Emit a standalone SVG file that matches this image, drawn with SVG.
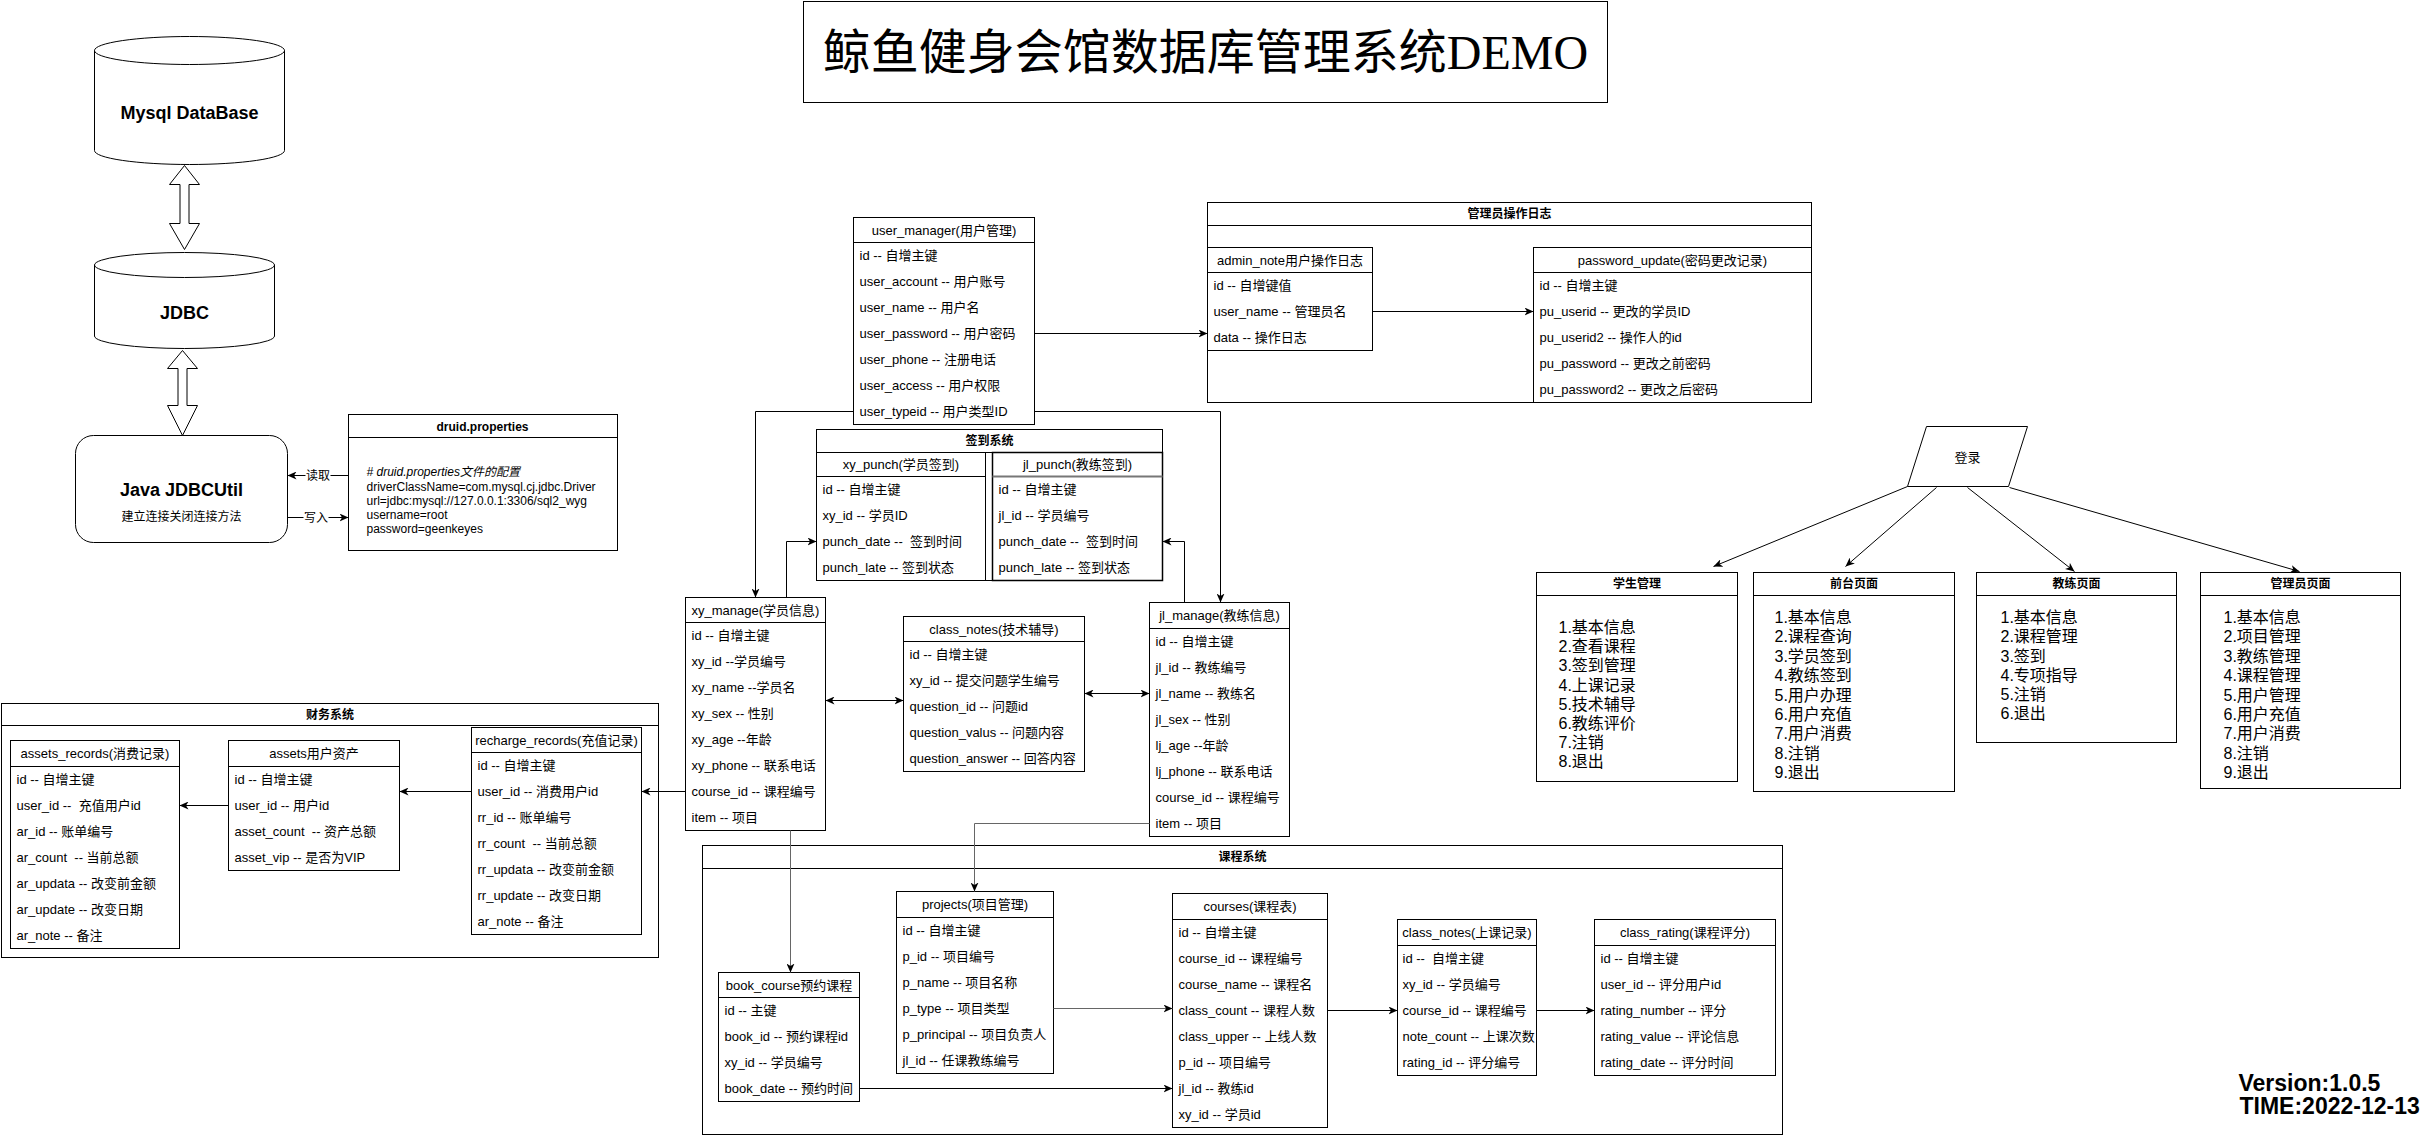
<svg xmlns="http://www.w3.org/2000/svg" width="2434" height="1135" viewBox="0 0 2434 1135">
<defs>
<style>
.t{font-family:"Liberation Sans","Noto Sans CJK SC",sans-serif;font-size:13px;fill:#000;dominant-baseline:central}
.h{text-anchor:middle}
.b{font-weight:bold;font-size:12px}
.s12{font-size:12px}
.l16{font-size:16px}
.box{fill:#fff;stroke:#000;stroke-width:1}
.ln{fill:none;stroke:#000;stroke-width:1}
.c{fill:none;stroke:#000;stroke-width:1}
.g{stroke:#666}
.a{marker-end:url(#arr)}
.aa{marker-start:url(#arr);marker-end:url(#arr)}
</style>
<marker id="arr" viewBox="0 0 10 8" refX="9" refY="4" markerWidth="10" markerHeight="8" markerUnits="userSpaceOnUse" orient="auto-start-reverse">
<path d="M0,0 L9,4 L0,8 L2.5,4 Z" fill="#000"/>
</marker>
</defs>
<rect x="0" y="0" width="2434" height="1135" fill="#fff"/>
<g transform="translate(0.5,0.5)">

<!-- Title -->
<g id="title">
<rect class="box" x="803" y="1" width="804" height="101"/>
<text x="1205" y="52" text-anchor="middle" dominant-baseline="central" style="font-family:'Liberation Serif','Noto Sans CJK SC',serif;font-size:48px">鲸鱼健身会馆数据库管理系统DEMO</text>
</g>

<!-- Mysql -->
<g id="mysql">
<path class="box" d="M94,50 A95,14 0 0 1 284,50 L284,150 A95,14 0 0 1 94,150 Z"/>
<path class="ln" d="M94,50 A95,14 0 0 0 284,50"/>
<text class="t h" x="189" y="112" style="font-weight:bold;font-size:18px">Mysql DataBase</text>
</g>

<g id="jdbc">
<path class="box" d="M94,264.5 A90,12.5 0 0 1 274,264.5 L274,335.5 A90,12.5 0 0 1 94,335.5 Z"/>
<path class="ln" d="M94,264.5 A90,12.5 0 0 0 274,264.5"/>
<text class="t h" x="184" y="312" style="font-weight:bold;font-size:18px">JDBC</text>
</g>

<g id="jdbcutil">
<rect class="box" x="75" y="435" width="212" height="107" rx="18" ry="18"/>
<text class="t h" x="181" y="489" style="font-weight:bold;font-size:18px">Java JDBCUtil</text>
<text class="t h s12" x="181" y="516">建立连接关闭连接方法</text>
</g>

<g id="druid">
<rect class="box" x="348" y="414" width="269" height="136"/>
<line class="ln" x1="348" y1="437" x2="617" y2="437"/>
<text class="t h b" x="482" y="426">druid.properties</text>
<text class="t s12" x="366" y="471" style="font-style:italic"># druid.properties文件的配置</text>
<text class="t s12" x="366" y="486">driverClassName=com.mysql.cj.jdbc.Driver</text>
<text class="t s12" x="366" y="500">url=jdbc:mysql://127.0.0.1:3306/sql2_wyg</text>
<text class="t s12" x="366" y="514">username=root</text>
<text class="t s12" x="366" y="528">password=geenkeyes</text>
</g>

<!-- 管理员操作日志 -->
<g id="admin_log">
<rect class="box" x="1207" y="202" width="604" height="200"/>
<line class="ln" x1="1207" y1="225" x2="1811" y2="225"/>
<text class="t h b" x="1509" y="213.5">管理员操作日志</text>
</g>

<g id="admin_note">
<rect class="box" x="1207" y="247" width="165" height="103"/>
<line class="ln" x1="1207" y1="272" x2="1372" y2="272"/>
<text class="t h" x="1289.5" y="259.5">admin_note用户操作日志</text>
<text class="t" x="1213" y="285">id -- 自增键值</text>
<text class="t" x="1213" y="311">user_name -- 管理员名</text>
<text class="t" x="1213" y="337">data -- 操作日志</text>
</g>

<g id="password_update">
<rect class="box" x="1533" y="247" width="278" height="155"/>
<line class="ln" x1="1533" y1="272" x2="1811" y2="272"/>
<text class="t h" x="1672" y="259.5">password_update(密码更改记录)</text>
<text class="t" x="1539" y="285">id -- 自增主键</text>
<text class="t" x="1539" y="311">pu_userid -- 更改的学员ID</text>
<text class="t" x="1539" y="337">pu_userid2 -- 操作人的id</text>
<text class="t" x="1539" y="363">pu_password -- 更改之前密码</text>
<text class="t" x="1539" y="389">pu_password2 -- 更改之后密码</text>
</g>

<g id="user_manager">
<rect class="box" x="853" y="217" width="181" height="207"/>
<line class="ln" x1="853" y1="242" x2="1034" y2="242"/>
<text class="t h" x="943.5" y="229.5">user_manager(用户管理)</text>
<text class="t" x="859" y="255">id -- 自增主键</text>
<text class="t" x="859" y="281">user_account -- 用户账号</text>
<text class="t" x="859" y="307">user_name -- 用户名</text>
<text class="t" x="859" y="333">user_password -- 用户密码</text>
<text class="t" x="859" y="359">user_phone -- 注册电话</text>
<text class="t" x="859" y="385">user_access -- 用户权限</text>
<text class="t" x="859" y="411">user_typeid -- 用户类型ID</text>
</g>

<!-- 签到系统 -->
<g id="punch_system">
<rect class="box" x="816" y="429" width="346" height="151"/>
<line class="ln" x1="816" y1="452" x2="1162" y2="452"/>
<text class="t h b" x="989" y="440.5">签到系统</text>
</g>
<g id="xy_punch">
<rect class="box" x="816" y="452" width="169" height="128"/>
<line class="ln" x1="816" y1="476" x2="985" y2="476"/>
<text class="t h" x="900.5" y="464">xy_punch(学员签到)</text>
<text class="t" x="822" y="489">id -- 自增主键</text>
<text class="t" x="822" y="515">xy_id -- 学员ID</text>
<text class="t" x="822" y="541" xml:space="preserve">punch_date --  签到时间</text>
<text class="t" x="822" y="567">punch_late -- 签到状态</text>
</g>
<g id="jl_punch">
<rect class="box" x="992" y="452" width="170" height="128" style="stroke-width:1.5"/>
<line x1="992" y1="476" x2="1162" y2="476" stroke="#777" stroke-width="2"/>
<text class="t h" x="1077" y="464">jl_punch(教练签到)</text>
<text class="t" x="998" y="489">id -- 自增主键</text>
<text class="t" x="998" y="515">jl_id -- 学员编号</text>
<text class="t" x="998" y="541" xml:space="preserve">punch_date --  签到时间</text>
<text class="t" x="998" y="567">punch_late -- 签到状态</text>
</g>

<g id="xy_manage">
<rect class="box" x="685" y="597" width="140" height="233"/>
<line class="ln" x1="685" y1="622" x2="825" y2="622"/>
<text class="t h" x="755" y="609.5">xy_manage(学员信息)</text>
<text class="t" x="691" y="635">id -- 自增主键</text>
<text class="t" x="691" y="661">xy_id --学员编号</text>
<text class="t" x="691" y="687">xy_name --学员名</text>
<text class="t" x="691" y="713">xy_sex -- 性别</text>
<text class="t" x="691" y="739">xy_age --年龄</text>
<text class="t" x="691" y="765">xy_phone -- 联系电话</text>
<text class="t" x="691" y="791">course_id -- 课程编号</text>
<text class="t" x="691" y="817">item -- 项目</text>
</g>

<g id="jl_manage">
<rect class="box" x="1149" y="602" width="140" height="234"/>
<line class="ln" x1="1149" y1="628" x2="1289" y2="628"/>
<text class="t h" x="1219" y="615">jl_manage(教练信息)</text>
<text class="t" x="1155" y="641">id -- 自增主键</text>
<text class="t" x="1155" y="667">jl_id -- 教练编号</text>
<text class="t" x="1155" y="693">jl_name -- 教练名</text>
<text class="t" x="1155" y="719">jl_sex -- 性别</text>
<text class="t" x="1155" y="745">lj_age --年龄</text>
<text class="t" x="1155" y="771">lj_phone -- 联系电话</text>
<text class="t" x="1155" y="797">course_id -- 课程编号</text>
<text class="t" x="1155" y="823">item -- 项目</text>
</g>

<g id="class_notes_tech">
<rect class="box" x="903" y="616" width="181" height="155"/>
<line class="ln" x1="903" y1="641" x2="1084" y2="641"/>
<text class="t h" x="993.5" y="628.5">class_notes(技术辅导)</text>
<text class="t" x="909" y="654">id -- 自增主键</text>
<text class="t" x="909" y="680">xy_id -- 提交问题学生编号</text>
<text class="t" x="909" y="706">question_id -- 问题id</text>
<text class="t" x="909" y="732">question_valus -- 问题内容</text>
<text class="t" x="909" y="758">question_answer -- 回答内容</text>
</g>

<!-- 财务系统 -->
<g id="finance">
<rect class="box" x="1" y="703" width="657" height="254"/>
<line class="ln" x1="1" y1="725" x2="658" y2="725"/>
<text class="t h b" x="329.5" y="714">财务系统</text>
</g>
<g id="assets_records">
<rect class="box" x="10" y="740" width="169" height="208"/>
<line class="ln" x1="10" y1="766" x2="179" y2="766"/>
<text class="t h" x="94.5" y="753">assets_records(消费记录)</text>
<text class="t" x="16" y="779">id -- 自增主键</text>
<text class="t" x="16" y="805" xml:space="preserve">user_id --  充值用户id</text>
<text class="t" x="16" y="831">ar_id -- 账单编号</text>
<text class="t" x="16" y="857" xml:space="preserve">ar_count  -- 当前总额</text>
<text class="t" x="16" y="883">ar_updata -- 改变前金额</text>
<text class="t" x="16" y="909">ar_update -- 改变日期</text>
<text class="t" x="16" y="935">ar_note -- 备注</text>
</g>
<g id="assets">
<rect class="box" x="228" y="740" width="171" height="130"/>
<line class="ln" x1="228" y1="766" x2="399" y2="766"/>
<text class="t h" x="313.5" y="753">assets用户资产</text>
<text class="t" x="234" y="779">id -- 自增主键</text>
<text class="t" x="234" y="805">user_id -- 用户id</text>
<text class="t" x="234" y="831" xml:space="preserve">asset_count  -- 资产总额</text>
<text class="t" x="234" y="857">asset_vip -- 是否为VIP</text>
</g>
<g id="recharge_records">
<rect class="box" x="471" y="727" width="170" height="207"/>
<line class="ln" x1="471" y1="752" x2="641" y2="752"/>
<text class="t h" x="556" y="739.5">recharge_records(充值记录)</text>
<text class="t" x="477" y="765">id -- 自增主键</text>
<text class="t" x="477" y="791">user_id -- 消费用户id</text>
<text class="t" x="477" y="817">rr_id -- 账单编号</text>
<text class="t" x="477" y="843" xml:space="preserve">rr_count  -- 当前总额</text>
<text class="t" x="477" y="869">rr_updata -- 改变前金额</text>
<text class="t" x="477" y="895">rr_update -- 改变日期</text>
<text class="t" x="477" y="921">ar_note -- 备注</text>
</g>

<!-- 课程系统 -->
<g id="course_system">
<rect class="box" x="702" y="845" width="1080" height="289"/>
<line class="ln" x1="702" y1="868" x2="1782" y2="868"/>
<text class="t h b" x="1242" y="856.5">课程系统</text>
</g>
<g id="book_course">
<rect class="box" x="718" y="972" width="141" height="129"/>
<line class="ln" x1="718" y1="997" x2="859" y2="997"/>
<text class="t h" x="788.5" y="984.5">book_course预约课程</text>
<text class="t" x="724" y="1010">id -- 主键</text>
<text class="t" x="724" y="1036">book_id -- 预约课程id</text>
<text class="t" x="724" y="1062">xy_id -- 学员编号</text>
<text class="t" x="724" y="1088">book_date -- 预约时间</text>
</g>
<g id="projects">
<rect class="box" x="896" y="891" width="157" height="182"/>
<line class="ln" x1="896" y1="917" x2="1053" y2="917"/>
<text class="t h" x="974.5" y="904">projects(项目管理)</text>
<text class="t" x="902" y="930">id -- 自增主键</text>
<text class="t" x="902" y="956">p_id -- 项目编号</text>
<text class="t" x="902" y="982">p_name -- 项目名称</text>
<text class="t" x="902" y="1008">p_type -- 项目类型</text>
<text class="t" x="902" y="1034">p_principal -- 项目负责人</text>
<text class="t" x="902" y="1060">jl_id -- 任课教练编号</text>
</g>
<g id="courses">
<rect class="box" x="1172" y="893" width="155" height="234"/>
<line class="ln" x1="1172" y1="919" x2="1327" y2="919"/>
<text class="t h" x="1249.5" y="906">courses(课程表)</text>
<text class="t" x="1178" y="932">id -- 自增主键</text>
<text class="t" x="1178" y="958">course_id -- 课程编号</text>
<text class="t" x="1178" y="984">course_name -- 课程名</text>
<text class="t" x="1178" y="1010">class_count -- 课程人数</text>
<text class="t" x="1178" y="1036">class_upper -- 上线人数</text>
<text class="t" x="1178" y="1062">p_id -- 项目编号</text>
<text class="t" x="1178" y="1088">jl_id -- 教练id</text>
<text class="t" x="1178" y="1114">xy_id -- 学员id</text>
</g>
<g id="class_notes_class">
<rect class="box" x="1397" y="919" width="139" height="156"/>
<line class="ln" x1="1397" y1="945" x2="1536" y2="945"/>
<text class="t h" x="1466.5" y="932">class_notes(上课记录)</text>
<text class="t" x="1402" y="958" xml:space="preserve">id --  自增主键</text>
<text class="t" x="1402" y="984">xy_id -- 学员编号</text>
<text class="t" x="1402" y="1010">course_id -- 课程编号</text>
<text class="t" x="1402" y="1036">note_count -- 上课次数</text>
<text class="t" x="1402" y="1062">rating_id -- 评分编号</text>
</g>
<g id="class_rating">
<rect class="box" x="1594" y="919" width="181" height="156"/>
<line class="ln" x1="1594" y1="945" x2="1775" y2="945"/>
<text class="t h" x="1684.5" y="932">class_rating(课程评分)</text>
<text class="t" x="1600" y="958">id -- 自增主键</text>
<text class="t" x="1600" y="984">user_id -- 评分用户id</text>
<text class="t" x="1600" y="1010">rating_number -- 评分</text>
<text class="t" x="1600" y="1036">rating_value -- 评论信息</text>
<text class="t" x="1600" y="1062">rating_date -- 评分时间</text>
</g>

<!-- Login and pages -->
<g id="login">
<polygon class="box" points="1926,426 2027,426 2008,486 1907,486"/>
<text class="t h" x="1967" y="457">登录</text>
</g>
<g id="page_student">
<rect class="box" x="1536" y="572" width="201" height="209"/>
<line class="ln" x1="1536" y1="595" x2="1737" y2="595"/>
<text class="t h b" x="1636.5" y="583.5">学生管理</text>
<text class="t l16" x="1558" y="627">1.基本信息</text>
<text class="t l16" x="1558" y="646">2.查看课程</text>
<text class="t l16" x="1558" y="665">3.签到管理</text>
<text class="t l16" x="1558" y="685">4.上课记录</text>
<text class="t l16" x="1558" y="704">5.技术辅导</text>
<text class="t l16" x="1558" y="723">6.教练评价</text>
<text class="t l16" x="1558" y="742">7.注销</text>
<text class="t l16" x="1558" y="761">8.退出</text>
</g>
<g id="page_front">
<rect class="box" x="1753" y="572" width="201" height="219"/>
<line class="ln" x1="1753" y1="595" x2="1954" y2="595"/>
<text class="t h b" x="1853.5" y="583.5">前台页面</text>
<text class="t l16" x="1774" y="617">1.基本信息</text>
<text class="t l16" x="1774" y="636">2.课程查询</text>
<text class="t l16" x="1774" y="656">3.学员签到</text>
<text class="t l16" x="1774" y="675">4.教练签到</text>
<text class="t l16" x="1774" y="695">5.用户办理</text>
<text class="t l16" x="1774" y="714">6.用户充值</text>
<text class="t l16" x="1774" y="733">7.用户消费</text>
<text class="t l16" x="1774" y="753">8.注销</text>
<text class="t l16" x="1774" y="772">9.退出</text>
</g>
<g id="page_coach">
<rect class="box" x="1976" y="572" width="200" height="170"/>
<line class="ln" x1="1976" y1="595" x2="2176" y2="595"/>
<text class="t h b" x="2076" y="583.5">教练页面</text>
<text class="t l16" x="2000" y="617">1.基本信息</text>
<text class="t l16" x="2000" y="636">2.课程管理</text>
<text class="t l16" x="2000" y="656">3.签到</text>
<text class="t l16" x="2000" y="675">4.专项指导</text>
<text class="t l16" x="2000" y="694">5.注销</text>
<text class="t l16" x="2000" y="713">6.退出</text>
</g>
<g id="page_admin">
<rect class="box" x="2200" y="572" width="200" height="216"/>
<line class="ln" x1="2200" y1="595" x2="2400" y2="595"/>
<text class="t h b" x="2300" y="583.5">管理员页面</text>
<text class="t l16" x="2223" y="617">1.基本信息</text>
<text class="t l16" x="2223" y="636">2.项目管理</text>
<text class="t l16" x="2223" y="656">3.教练管理</text>
<text class="t l16" x="2223" y="675">4.课程管理</text>
<text class="t l16" x="2223" y="695">5.用户管理</text>
<text class="t l16" x="2223" y="714">6.用户充值</text>
<text class="t l16" x="2223" y="733">7.用户消费</text>
<text class="t l16" x="2223" y="753">8.注销</text>
<text class="t l16" x="2223" y="772">9.退出</text>
</g>

<g id="version">
<text x="2238" y="1090" style="font-family:'Liberation Sans',sans-serif;font-weight:bold;font-size:23px">Version:1.0.5</text>
<text x="2239" y="1113" style="font-family:'Liberation Sans',sans-serif;font-weight:bold;font-size:23px">TIME:2022-12-13</text>
</g>

<!-- Connectors -->
<g id="connectors">
<polygon class="box" points="184,165 199,184 188.5,184 188.5,223 199,223 184,249 169,223 179.5,223 179.5,184 169,184"/>
<polygon class="box" points="182,350 197,368 186.5,368 186.5,405 197,405 182,435 167,405 177.5,405 177.5,368 167,368"/>

<line class="c a" x1="348" y1="475" x2="287" y2="475"/>
<rect x="305" y="467" width="25" height="16" fill="#fff"/>
<text class="t h s12" x="317.5" y="475">读取</text>
<line class="c a" x1="287" y1="517" x2="348" y2="517"/>
<rect x="303" y="509" width="25" height="16" fill="#fff"/>
<text class="t h s12" x="315.5" y="517">写入</text>

<line class="c a" x1="1034" y1="333" x2="1207" y2="333"/>
<line class="c a" x1="1372" y1="311" x2="1533" y2="311"/>
<polyline class="c a" points="853,411 755,411 755,597"/>
<polyline class="c a" points="1034,411 1220,411 1220,602"/>
<polyline class="c a" points="786,597 786,541 816,541"/>
<polyline class="c a" points="1184,602 1184,541 1162,541"/>
<line class="c aa" x1="825" y1="700" x2="903" y2="700"/>
<line class="c aa" x1="1084" y1="693" x2="1149" y2="693"/>
<line class="c a" x1="685" y1="791" x2="641" y2="791"/>
<line class="c a" x1="471" y1="791" x2="399" y2="791"/>
<line class="c a" x1="228" y1="805" x2="179" y2="805"/>
<line class="c g a" x1="790" y1="830" x2="790" y2="972"/>
<polyline class="c g a" points="1149,823 974,823 974,891"/>
<line class="c g a" x1="1053" y1="1008" x2="1172" y2="1008"/>
<line class="c a" x1="859" y1="1088" x2="1172" y2="1088"/>
<line class="c a" x1="1327" y1="1010" x2="1397" y2="1010"/>
<line class="c a" x1="1536" y1="1010" x2="1594" y2="1010"/>

<line class="c a" x1="1907" y1="486" x2="1713" y2="566"/>
<line class="c a" x1="1936" y1="487" x2="1845" y2="566"/>
<line class="c a" x1="1967" y1="487" x2="2074" y2="571"/>
<line class="c a" x1="2009" y1="487" x2="2299" y2="571"/>
</g>
</g>
</svg>
